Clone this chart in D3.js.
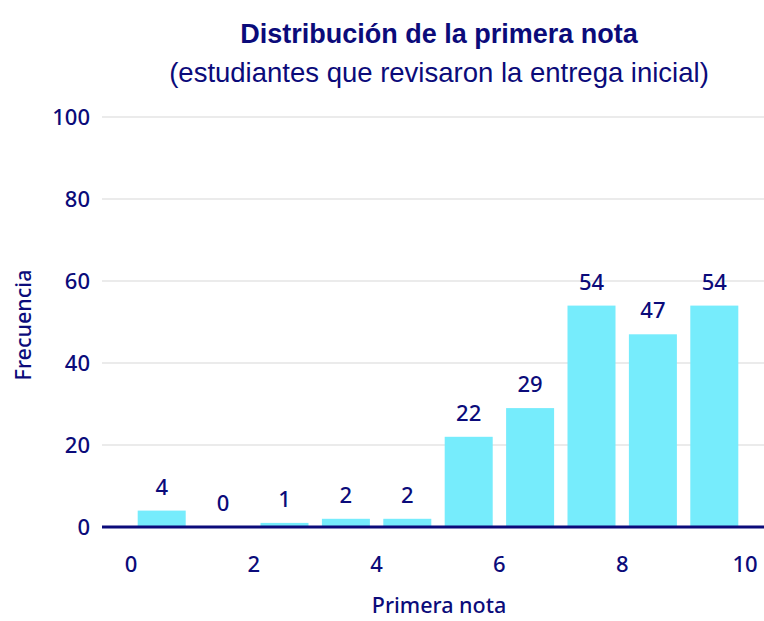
<!DOCTYPE html>
<html>
<head>
<meta charset="utf-8">
<script src="https://cdn.jsdelivr.net/npm/d3@7"></script>
<style>
  body { margin: 0; background: #fff; }
  text { fill: #0b0b7a; font-family: "Noto Sans", sans-serif; font-weight: 500; }
</style>
</head>
<body>
<div id="chart"></div>
<script>
// histogram bins: [start, start+1)
const binStarts = [0, 1, 2, 3, 4, 5, 6, 7, 8, 9];
const counts = [4, 0, 1, 2, 2, 22, 29, 54, 47, 54];
const xTicks = [0, 2, 4, 6, 8, 10];
const yTicks = [0, 20, 40, 60, 80, 100];

const width = 764, height = 621;
const navy = "#0b0b7a";

const svg = d3.select("#chart").append("svg")
  .attr("width", width)
  .attr("height", height);

const x = d3.scaleLinear().domain([0, 10]).range([131, 745]);
const y = d3.scaleLinear().domain([0, 100]).range([527, 117]);

// gridlines
svg.append("g")
  .selectAll("line")
  .data(yTicks.filter(d => d > 0))
  .enter().append("line")
  .attr("x1", 102).attr("x2", width)
  .attr("y1", d => y(d)).attr("y2", d => y(d))
  .attr("stroke", "#e4e4e4")
  .attr("stroke-width", 1.5);

// y tick labels
svg.append("g")
  .selectAll("text")
  .data(yTicks)
  .enter().append("text")
  .attr("x", 90)
  .attr("y", d => y(d))
  .attr("dy", "0.36em")
  .attr("text-anchor", "end")
  .style("font-size", "22px")
  .text(d => d);

// bars
const pad = 6.7;
svg.append("g")
  .selectAll("rect")
  .data(binStarts)
  .enter().append("rect")
  .attr("x", (d) => x(d) + pad)
  .attr("width", d => x(d + 1) - x(d) - 2 * pad)
  .attr("y", (d, i) => y(counts[i]))
  .attr("height", (d, i) => y(0) - y(counts[i]))
  .attr("fill", "#76ecfc");

// bar labels
svg.append("g")
  .selectAll("text")
  .data(binStarts)
  .enter().append("text")
  .attr("x", d => x(d + 0.5))
  .attr("y", (d, i) => y(counts[i]) - 16)
  .attr("text-anchor", "middle")
  .style("font-size", "22px")
  .text((d, i) => counts[i]);

// baseline
svg.append("line")
  .attr("x1", 102).attr("x2", width)
  .attr("y1", y(0)).attr("y2", y(0))
  .attr("stroke", navy)
  .attr("stroke-width", 3);

// x tick labels
svg.append("g")
  .selectAll("text")
  .data(xTicks)
  .enter().append("text")
  .attr("x", d => x(d))
  .attr("y", 572)
  .attr("text-anchor", "middle")
  .style("font-size", "22px")
  .text(d => d);

// axis titles
svg.append("text")
  .attr("x", 439).attr("y", 613)
  .attr("text-anchor", "middle")
  .style("font-size", "21.5px")
  .text("Primera nota");

svg.append("text")
  .attr("transform", "translate(31,325) rotate(-90)")
  .attr("text-anchor", "middle")
  .style("font-size", "21.5px")
  .text("Frecuencia");

// titles
svg.append("text")
  .attr("x", 439).attr("y", 43)
  .attr("text-anchor", "middle")
  .style("font-family", "'Liberation Sans Narrow', sans-serif")
  .style("font-weight", "bold")
  .style("font-size", "27px")
  .text("Distribución de la primera nota");

svg.append("text")
  .attr("x", 439).attr("y", 82)
  .attr("text-anchor", "middle")
  .style("font-family", "'Liberation Sans Narrow', sans-serif")
  .style("font-weight", "normal")
  .style("font-size", "27.5px")
  .text("(estudiantes que revisaron la entrega inicial)");
</script>
</body>
</html>
